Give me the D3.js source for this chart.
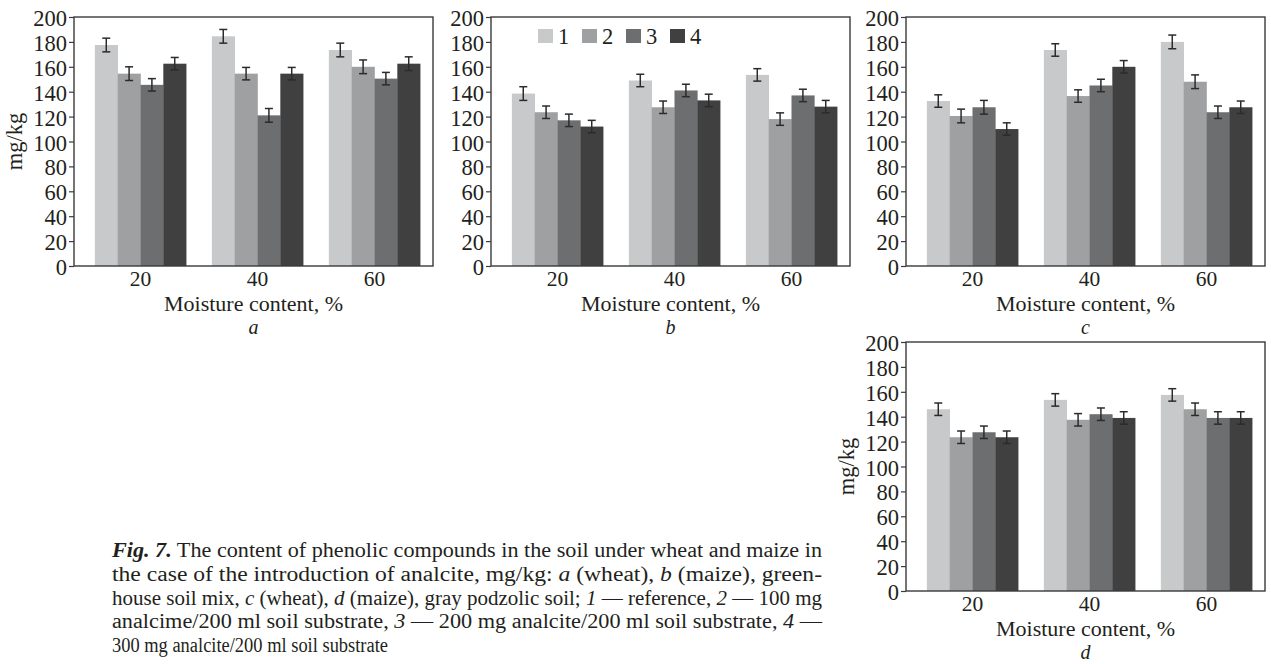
<!DOCTYPE html>
<meta charset="utf-8">
<style>
  body { margin: 0; background: #fff; }
  svg text { font-family: "Liberation Serif", "Times New Roman", serif; fill: #231f20; }
  .axis text { font-size: 22.5px; }
  .xaxis text { font-size: 21.5px; }
  .axis line { stroke: #3a3a3a; stroke-width: 1.2; }
</style>
<body>
<script src="https://d3js.org/d3.v7.min.js"></script>
<script>
// moisture groups and treatment series
var moisture = ["20", "40", "60"];
var series = ["1", "2", "3", "4"];
var colors = ["#c8c9cb", "#9fa0a2", "#6d6e70", "#404041"];
var yTicks = [0, 20, 40, 60, 80, 100, 120, 140, 160, 180, 200];

// values per moisture group (rows) x series (columns), mg/kg
var valuesA = [[177.5, 154.5, 145.5, 162.5], [184.5, 154.5, 121, 154.5], [173.5, 160, 150.5, 162.5]];
var errorsA = [[5.5, 5.5, 5, 5], [5.5, 5, 5.5, 5], [5.5, 5.5, 5, 5.5]];
var valuesB = [[138.5, 123.5, 117, 112], [149, 127.5, 141, 133], [153.5, 118, 137, 128]];
var errorsB = [[5.5, 5, 5, 5], [5, 5, 5, 5], [5, 5, 5, 5]];
var valuesC = [[132.5, 120.5, 127.5, 110], [173.5, 136.5, 145, 160], [180, 148, 123.5, 127.5]];
var errorsC = [[5, 5.5, 5.5, 5], [5, 5, 5, 5], [5.5, 5.5, 5, 5]];
var valuesD = [[146, 123.5, 127.5, 123.5], [153.5, 137.5, 142, 139], [157.5, 146, 139, 139]];
var errorsD = [[5, 5, 5, 5], [5, 5, 5, 5], [5, 5, 5, 5]];

var captionLines = [
  [["Fig. 7.", "bi"], [" The content of phenolic compounds in the soil under wheat and maize in", ""]],
  [["the case of the introduction of analcite, mg/kg: ", ""], ["a", "i"], [" (wheat), ", ""], ["b", "i"], [" (maize), green-", ""]],
  [["house soil mix, ", ""], ["c", "i"], [" (wheat), ", ""], ["d", "i"], [" (maize), gray podzolic soil; ", ""], ["1", "i"], [" \u2014 reference, ", ""], ["2", "i"], [" \u2014 100 mg", ""]],
  [["analcime/200 ml soil substrate, ", ""], ["3", "i"], [" \u2014 200 mg analcite/200 ml soil substrate, ", ""], ["4", "i"], [" \u2014", ""]],
  [["300 mg analcite/200 ml soil substrate", ""]]
];
var captionWidths = [710, 710, 710, 710, 276];

var W = 1271, H = 664;
var pw = 359, ph = 249;

var svg = d3.select("body").append("svg")
  .attr("width", W).attr("height", H);

var panels = [
  { letter: "a", left: 74, top: 17, vals: valuesA, errs: errorsA, ytitle: true, legend: false },
  { letter: "b", left: 491, top: 17, vals: valuesB, errs: errorsB, ytitle: false, legend: true },
  { letter: "c", left: 906, top: 17, vals: valuesC, errs: errorsC, ytitle: false, legend: false },
  { letter: "d", left: 906, top: 342, vals: valuesD, errs: errorsD, ytitle: true, legend: false }
];

panels.forEach(function (p) {
  var g = svg.append("g").attr("transform", "translate(" + p.left + "," + p.top + ")");

  var x0 = d3.scaleBand().domain(moisture).range([8, pw]).paddingInner(0.22).paddingOuter(0.11);
  var x1 = d3.scaleBand().domain(series).range([0, x0.bandwidth()]);
  var y = d3.scaleLinear().domain([0, 200]).range([ph, 0]);

  // bars
  var groups = g.selectAll(".grp").data(moisture).enter().append("g")
    .attr("transform", function (m) { return "translate(" + x0(m) + ",0)"; });

  groups.selectAll("rect")
    .data(function (m, i) { return series.map(function (s, j) { return { s: s, v: p.vals[i][j], e: p.errs[i][j], c: colors[j] }; }); })
    .enter().append("rect")
    .attr("x", function (d) { return x1(d.s); })
    .attr("y", function (d) { return y(d.v); })
    .attr("width", x1.bandwidth() + 0.3)
    .attr("height", function (d) { return ph - y(d.v); })
    .attr("fill", function (d) { return d.c; });

  // error bars
  var eb = groups.selectAll(".err")
    .data(function (m, i) { return series.map(function (s, j) { return { s: s, v: p.vals[i][j], e: p.errs[i][j] }; }); })
    .enter().append("g").attr("class", "err")
    .attr("stroke", "#2b2b2b").attr("stroke-width", 1.5);
  eb.append("line")
    .attr("x1", function (d) { return x1(d.s) + x1.bandwidth() / 2; })
    .attr("x2", function (d) { return x1(d.s) + x1.bandwidth() / 2; })
    .attr("y1", function (d) { return y(d.v + d.e); })
    .attr("y2", function (d) { return y(d.v - d.e); });
  [1, -1].forEach(function (sgn) {
    eb.append("line")
      .attr("x1", function (d) { return x1(d.s) + x1.bandwidth() / 2 - 4; })
      .attr("x2", function (d) { return x1(d.s) + x1.bandwidth() / 2 + 4; })
      .attr("y1", function (d) { return y(d.v + sgn * d.e); })
      .attr("y2", function (d) { return y(d.v + sgn * d.e); });
  });

  // axes
  var ya = g.append("g").attr("class", "axis")
    .call(d3.axisLeft(y).tickValues(yTicks).tickSize(5).tickPadding(2));
  ya.select(".domain").remove();
  ya.selectAll("text").attr("dy", "0.38em");

  var xa = g.append("g").attr("class", "axis xaxis")
    .attr("transform", "translate(0," + ph + ")")
    .call(d3.axisBottom(x0).tickSize(0).tickPadding(5));
  xa.select(".domain").remove();
  xa.selectAll("text").attr("dy", "0.71em");

  // frame
  g.append("rect")
    .attr("width", pw).attr("height", ph)
    .attr("fill", "none").attr("stroke", "#3a3a3a").attr("stroke-width", 1.4);

  g.append("text")
    .attr("x", pw / 2).attr("y", ph + 45)
    .attr("text-anchor", "middle").style("font-size", "22px")
    .text("Moisture content, %");
  g.append("text")
    .attr("x", pw / 2).attr("y", ph + 67.8)
    .attr("text-anchor", "middle").style("font-size", "20px").style("font-style", "italic")
    .text(p.letter);

  if (p.ytitle) {
    g.append("text")
      .attr("transform", "translate(-52," + (ph / 2) + ") rotate(-90)")
      .attr("text-anchor", "middle").style("font-size", "22.5px")
      .text("mg/kg");
  }

  if (p.legend) {
    var lg = g.selectAll(".lg").data(series).enter().append("g")
      .attr("transform", function (d, i) { return "translate(" + (47 + i * 44) + ",12)"; });
    lg.append("rect").attr("width", 15).attr("height", 14)
      .attr("fill", function (d, i) { return colors[i]; });
    lg.append("text").attr("x", 20).attr("y", 14.5)
      .style("font-size", "22.5px").text(function (d) { return d; });
  }
});

// caption
captionLines.forEach(function (line, i) {
  var t = svg.append("text")
    .attr("x", 112).attr("y", 557 + i * 23.8)
    .style("font-size", "20px")
    .attr("textLength", captionWidths[i])
    .attr("lengthAdjust", "spacingAndGlyphs");
  line.forEach(function (seg) {
    var ts = t.append("tspan").text(seg[0]);
    if (seg[1].indexOf("i") >= 0) ts.style("font-style", "italic");
    if (seg[1].indexOf("b") >= 0) ts.style("font-weight", "bold");
  });
});
</script>
</body>
